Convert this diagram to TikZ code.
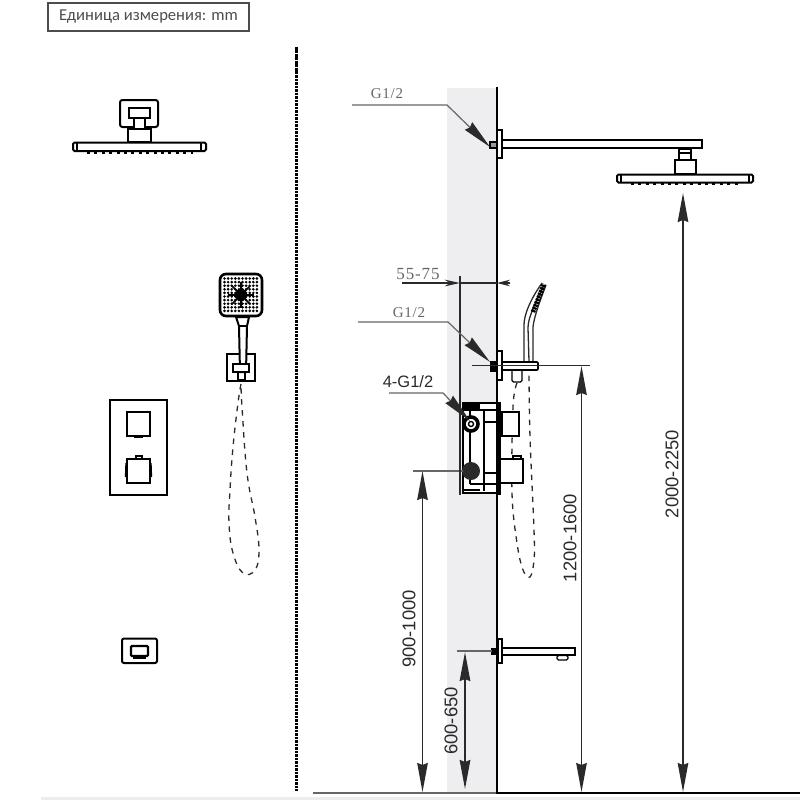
\documentclass[tikz,border=0pt]{standalone}
\usepackage{fontspec}
\setmainfont{Liberation Sans}
\newfontfamily\boxfont{Carlito}
\newfontfamily\dimfont[LetterSpace=5]{Liberation Serif}
\usetikzlibrary{arrows.meta,positioning}
\definecolor{bandgray}{HTML}{EEEEF0}
\definecolor{darkline}{HTML}{2A2A2A}
\definecolor{leadgray}{HTML}{666666}
\tikzset{
  partline/.style={draw=black,line width=2pt,fill=white},
  thinpart/.style={draw=black,line width=1.3pt,fill=white},
  nozzles/.style={draw=black,line width=2.4pt,dash pattern=on 3pt off 4.4pt},
  hoseline/.style={draw=darkline,line width=1.3pt,dash pattern=on 5.5pt off 5.5pt},
  dimline/.style={draw=darkline,line width=1.7pt,{Stealth[length=29pt,width=10.5pt,inset=2pt]}-{Stealth[length=29pt,width=10.5pt,inset=2pt]}},
  extline/.style={draw=leadgray,line width=1.3pt},
  leadline/.style={draw=leadgray,line width=1.2pt,-{Stealth[length=30pt,width=10.5pt,inset=2pt,color=darkline]}},
  dimtext/.style={text=darkline,font=\fontsize{18.4}{18.4}\selectfont,rotate=90,inner sep=0pt},
  graytext/.style={text=leadgray,font=\dimfont\fontsize{15}{15}\selectfont,inner sep=0pt}
}
\begin{document}
\begin{tikzpicture}[x=1pt,y=-1pt]
	\useasboundingbox (0,0) rectangle (800,800);

	\fill[bandgray] (447,88) rectangle (497,792);
	\fill[black!7] (41,797) rectangle (800,800);

	\node[draw=black!70,line width=1.3pt,minimum width=201pt,minimum height=28pt,inner sep=0pt,text=black!70,font=\boxfont\fontsize{16.6}{16.6}\selectfont] (unitbox) at (148.5,17) {Единица измерения: mm};

	\draw[line width=3.6pt,dash pattern=on 2.6pt off 0.9pt] (296.5,47) -- (296.5,791);

	\draw[partline,rounded corners=2.5pt] (120,100) rectangle (158,127);
	\draw[partline] (134,118) rectangle (145,129);
	\draw[partline,line width=2.4pt] (129,108) rectangle (150,118);
	\draw[partline] (128,129) rectangle (151,142);
	\draw[partline,rounded corners=1.5pt] (73,142.5) rectangle (206,151);
	\draw[thinpart] (77,143) -- (77,150.5) (201,143) -- (201,150.5);
	\path[nozzles] (87,152.5) -- (193,152.5);

	\draw[partline,line width=2.6pt,rounded corners=6pt] (220,274) rectangle (262,316);
	\foreach \dotx in {-16.5,-12.9,...,17} {
		\foreach \doty in {-16.5,-12.9,...,17} {
			\fill[black] (241+\dotx,295+\doty) circle (1.45pt);
		}
	}
	\fill[black] (241,295) circle (6pt);
	\foreach \spokeang in {0,45,...,315} {
		\draw[black,line width=1.6pt] (241,295) -- ++(\spokeang:13pt);
	}
	\draw[hoseline] plot[smooth,tension=0.7] coordinates {(241,384) (238,403) (233,447) (230,490) (229,523) (233,553) (243,573) (255,570) (259,550) (255,517) (247,473) (242,407) (241,384)};
	\draw[partline] (227,354) rectangle (255,380.5);
	\draw[thinpart] (238,372) rectangle (245,380);
	\draw[partline] (236,317) -- (239,326) -- (240,372) -- (246,372) -- (247,326) -- (249,317) -- cycle;
	\draw[thinpart] (237.5,326) -- (248,326);
	\draw[partline] (233,363.5) rectangle (249,371.5);

	\draw[draw=black,line width=1.6pt] (110,400) rectangle (167,495);
	\draw[partline] (127,412) rectangle (150,436);
	\draw[thinpart] (135,436) -- (142,436) -- (142,437.5) -- (135,437.5) -- cycle;
	\draw[thinpart] (136,459) -- (136,456) -- (142,456) -- (142,459);
	\draw[partline] (127,459) rectangle (150,483);
	\draw[thinpart] (126,463) -- (125.5,477) (151,463) -- (151.5,477);
	\draw[line width=1.8pt] (134,483.5) -- (143,483.5);

	\draw[partline,rounded corners=2pt] (122,638.5) rectangle (157,663);
	\draw[partline,line width=2.4pt,rounded corners=1pt] (131,646) rectangle (148,656);
	\fill[black] (133,656) rectangle (146,659);

	\draw[thinpart,fill=none,draw=leadgray,line width=1.8pt] (313,792.7) -- (497,792.7);
	\draw[line width=2.6pt] (497,87) -- (497,793.8) (497,792.8) -- (800,792.8);
	\fill[black] (497,402) rectangle (500.5,495);

	\draw[thinpart] (497.5,130) rectangle (502,158);
	\draw[partline,fill=black!40] (490,141.5) rectangle (497,148);
	\draw[partline,line width=1.7pt] (502,140) rectangle (702,148);
	\draw[partline] (679,149) rectangle (691,160);
	\draw[thinpart] (679,153) -- (691,153);
	\draw[partline] (675,160) rectangle (696,173.5);
	\draw[partline,rounded corners=1.5pt] (617,174.5) rectangle (753,182.5);
	\draw[thinpart] (621,175) -- (621,182) (749,175) -- (749,182);
	\path[nozzles] (631,184) -- (738,184);

	\draw[hoseline] plot[smooth,tension=0.6] coordinates {(517,383) (513,407) (512,493) (517,543) (523,570) (530,577) (534,560) (534,530) (530,437) (529,372)};
	\fill[black] (490,361) rectangle (497,372);
	\draw[thinpart] (497.5,351) rectangle (502,380);
	\draw[thinpart,rounded corners=1.5pt] (512,371) -- (512,382) -- (522,382) -- (522,371);
	\draw[line width=1.3pt,draw=darkline] (524,361) -- (524,325) .. controls (524,315) and (530,300) .. (542,283);
	\draw[line width=1.3pt,draw=darkline] (529,361) -- (528,328) .. controls (528,318) and (534,306) .. (544,285);
	\draw[line width=1.3pt,draw=darkline] (533,361) -- (533,327) .. controls (534,318) and (538,306) .. (546,285);
	\draw[line width=4.6pt,dash pattern=on 2.2pt off 0.8pt] (533,312) -- (544,284);
	\draw[partline,line width=1.7pt,rounded corners=1pt] (502,362) rectangle (538,370);

	\draw[partline,line width=1.9pt] (463,403) rectangle (497,493);
	\fill[black] (463,403) rectangle (480,410);
	\draw[line width=1.9pt] (470,410) -- (470,484) (484,410) -- (484,491) (463,410) -- (497,410) (484,422) -- (497,422) (484,473) -- (497,473) (470,484) -- (497,484) (463,490) -- (480,490);
	\draw[line width=3.6pt,fill=white] (471,424) circle (7pt);
	\draw[line width=1.4pt,fill=white] (471,424) circle (2.5pt);
	\fill[darkline] (471,471) circle (9pt);
	\draw[partline,line width=2.4pt] (502,412) rectangle (519,436);
	\draw[thinpart,line width=1.8pt] (513,458) -- (513,456) -- (521,456) -- (521,458);
	\draw[partline,line width=2.4pt] (500,459) rectangle (523,483);

	\draw[partline,line width=1.5pt] (502,648) rectangle (575,655);
	\fill[black] (491,648) rectangle (497,655);
	\draw[thinpart] (498,639) rectangle (502,663);
	\draw[thinpart,rounded corners=1.5pt] (557,655.5) rectangle (568,660);

	\coordinate (floorA) at (683,792);
	\coordinate (headB) at (683,193);
	\coordinate (floorC) at (581.5,792);
	\coordinate (armD) at (581.5,366);
	\coordinate (floorE) at (422.5,792);
	\coordinate (valveF) at (422.5,471);
	\coordinate (floorG) at (465,789);
	\coordinate (spoutH) at (465,652);
	\coordinate (extA) at (472,365.6);
	\coordinate (extB) at (590,365.6);
	\coordinate (extC) at (413,471);
	\coordinate (extD) at (463,471);
	\coordinate (extE) at (457,651);
	\coordinate (extF) at (492,651);
	\coordinate (depthA) at (460,276);
	\coordinate (depthB) at (460,495);
	\coordinate (depthC) at (402,283);
	\coordinate (depthD) at (460,283);
	\coordinate (depthE) at (510,283);
	\coordinate (depthF) at (497,283);

	\draw[dimline] (floorA) -- (headB);
	\draw[dimline] (floorC) -- (armD);
	\draw[dimline] (floorE) -- (valveF);
	\draw[dimline,line width=2.2pt] (floorG) -- (spoutH);
	\draw[extline,draw=darkline] (extA) -- (extB);
	\draw[extline] (extC) -- (extD);
	\draw[extline] (extE) -- (extF);
	\draw[draw=darkline,line width=2.4pt] (depthA) -- (depthB);
	\draw[draw=darkline,line width=2.4pt,-{Stealth[length=15pt,width=6.5pt]}] (depthC) -- (depthD);
	\draw[draw=darkline,line width=1.4pt] (depthD) -- (depthF);
	\draw[draw=darkline,line width=1.4pt,-{Stealth[length=13pt,width=6.5pt]}] (depthE) -- (depthF);

	\node[dimtext] (dimA) at (672,474) {2000-2250};
	\node[dimtext] (dimB) at (570,538) {1200-1600};
	\node[dimtext] (dimC) at (409,629) {900-1000};
	\node[dimtext] (dimD) at (451,721) {600-650};

	\coordinate (leadA) at (352,105);
	\coordinate (leadB) at (447,105);
	\coordinate (leadC) at (490,147);
	\coordinate (leadD) at (358,322);
	\coordinate (leadE) at (448,322);
	\coordinate (leadF) at (490,362);
	\coordinate (leadG) at (389,393);
	\coordinate (leadH) at (443,393);
	\coordinate (leadI) at (470,421);
	\draw[leadline] (leadA) -- (leadB) -- (leadC);
	\draw[leadline] (leadD) -- (leadE) -- (leadF);
	\draw[leadline] (leadG) -- (leadH) -- (leadI);

	\node[graytext] (threadA) at (387,94) {G1/2};
	\node[graytext] (threadB) at (409,313) {G1/2};
	\node[inner sep=0pt,text=darkline,font=\fontsize{16.5}{16.5}\selectfont] (threadC) at (408,382) {4-G1/2};
	\node[graytext,font=\dimfont\fontsize{17}{17}\selectfont] (depthlabel) at (418,274) {55-75};
\end{tikzpicture}
\end{document}
